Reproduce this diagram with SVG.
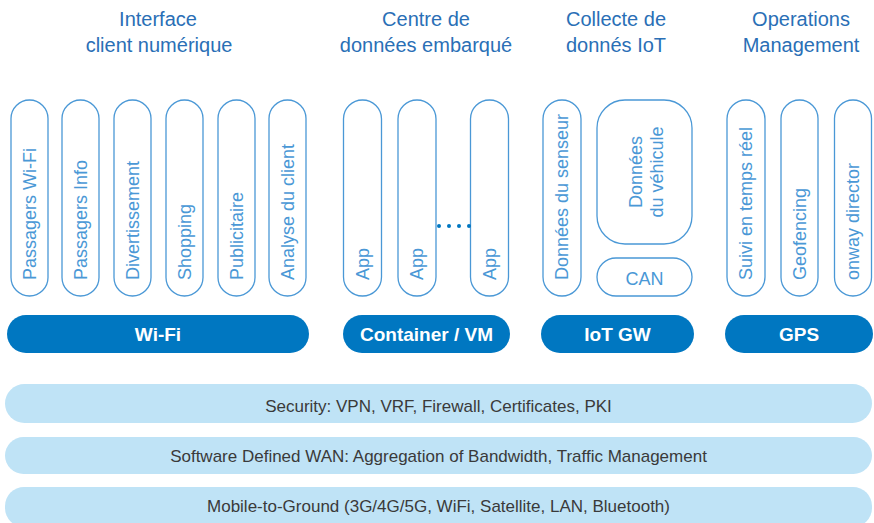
<svg xmlns="http://www.w3.org/2000/svg" width="874" height="523" viewBox="0 0 874 523">
<style>
.hdr{font-family:"Liberation Sans",Arial,sans-serif;font-size:20px;fill:#2a6fb6;text-anchor:middle}
.pill{fill:#fff;stroke:#4a98d6;stroke-width:1.3}
.pt{font-family:"Liberation Sans",Arial,sans-serif;font-size:18px;fill:#4a98d6}
.bar{fill:#0077c1}
.bt{font-family:"Liberation Sans",Arial,sans-serif;font-size:19px;font-weight:bold;fill:#fff;text-anchor:middle}
.lay{fill:#bfe3f6}
.lt{font-family:"Liberation Sans",Arial,sans-serif;font-size:17px;fill:#3a3a3a;text-anchor:middle}
.dot{fill:#0077c1}
</style>

<g id="headers">
<text class="hdr" x="158" y="26">Interface</text>
<text class="hdr" x="159" y="52">client numérique</text>
<text class="hdr" x="426" y="26">Centre de</text>
<text class="hdr" x="426" y="52">données embarqué</text>
<text class="hdr" x="616" y="26">Collecte de</text>
<text class="hdr" x="616" y="52">donnés IoT</text>
<text class="hdr" x="801" y="26">Operations</text>
<text class="hdr" x="801" y="52">Management</text>
</g>

<g id="wifi-apps">
<g id="n-passagers-wifi"><rect class="pill" x="11" y="100" width="37" height="196" rx="18.5"/><text class="pt" transform="translate(35.5,280) rotate(-90)">Passagers Wi-Fi</text></g>
<g id="n-passagers-info"><rect class="pill" x="62" y="100" width="37" height="196" rx="18.5"/><text class="pt" transform="translate(86.5,280) rotate(-90)">Passagers Info</text></g>
<g id="n-divertissement"><rect class="pill" x="114" y="100" width="37" height="196" rx="18.5"/><text class="pt" transform="translate(138.5,280) rotate(-90)">Divertissement</text></g>
<g id="n-shopping"><rect class="pill" x="166" y="100" width="37" height="196" rx="18.5"/><text class="pt" transform="translate(190.5,280) rotate(-90)">Shopping</text></g>
<g id="n-publicitaire"><rect class="pill" x="218" y="100" width="37" height="196" rx="18.5"/><text class="pt" transform="translate(242.5,280) rotate(-90)">Publicitaire</text></g>
<g id="n-analyse"><rect class="pill" x="269" y="100" width="37" height="196" rx="18.5"/><text class="pt" transform="translate(293.5,280) rotate(-90)">Analyse du client</text></g>
</g>

<g id="container-apps">
<g id="n-app1"><rect class="pill" x="343.5" y="100" width="38" height="196" rx="19"/><text class="pt" transform="translate(368.5,280) rotate(-90)">App</text></g>
<g id="n-app2"><rect class="pill" x="398" y="100" width="38" height="196" rx="19"/><text class="pt" transform="translate(423,280) rotate(-90)">App</text></g>
<g id="n-app3"><rect class="pill" x="470.5" y="100" width="38" height="196" rx="19"/><text class="pt" transform="translate(495.5,280) rotate(-90)">App</text></g>
<g id="dots"><circle class="dot" cx="439" cy="226" r="2"/><circle class="dot" cx="449" cy="226" r="2"/><circle class="dot" cx="459" cy="226" r="2"/><circle class="dot" cx="469" cy="226" r="2"/></g>
</g>

<g id="iot-items">
<g id="n-senseur"><rect class="pill" x="543" y="100" width="38" height="196" rx="19"/><text class="pt" transform="translate(568,280) rotate(-90)">Données du senseur</text></g>
<g id="n-vehicule"><rect class="pill" x="597" y="100" width="95" height="144" rx="28"/><text class="pt" text-anchor="middle" transform="translate(642,172) rotate(-90)">Données</text><text class="pt" text-anchor="middle" transform="translate(663,172) rotate(-90)">du véhicule</text></g>
<g id="n-can"><rect class="pill" x="597" y="258" width="95" height="38" rx="19"/><text class="pt" x="644.5" y="285" text-anchor="middle">CAN</text></g>
</g>

<g id="gps-items">
<g id="n-suivi"><rect class="pill" x="727" y="100" width="38" height="196" rx="19"/><text class="pt" transform="translate(752,280) rotate(-90)">Suivi en temps réel</text></g>
<g id="n-geofencing"><rect class="pill" x="781" y="100" width="37" height="196" rx="18.5"/><text class="pt" transform="translate(805.5,280) rotate(-90)">Geofencing</text></g>
<g id="n-onway"><rect class="pill" x="834.5" y="100" width="37" height="196" rx="18.5"/><text class="pt" transform="translate(859,280) rotate(-90)">onway director</text></g>
</g>

<g id="platforms">
<g id="n-wifi"><rect class="bar" x="7" y="315" width="302" height="38" rx="19"/><text class="bt" x="158" y="341">Wi-Fi</text></g>
<g id="n-container"><rect class="bar" x="343" y="315" width="167" height="38" rx="19"/><text class="bt" x="426.5" y="341">Container / VM</text></g>
<g id="n-iotgw"><rect class="bar" x="541" y="315" width="153" height="38" rx="19"/><text class="bt" x="617.5" y="341">IoT GW</text></g>
<g id="n-gps"><rect class="bar" x="725" y="315" width="148" height="38" rx="19"/><text class="bt" x="799" y="341">GPS</text></g>
</g>

<g id="layers">
<g id="n-security"><rect class="lay" x="5" y="384" width="867" height="39" rx="19.5"/><text class="lt" x="438.5" y="411.5">Security: VPN, VRF, Firewall, Certificates, PKI</text></g>
<g id="n-sdwan"><rect class="lay" x="5" y="437" width="867" height="37" rx="18.5"/><text class="lt" x="438.5" y="461.5">Software Defined WAN: Aggregation of Bandwidth, Traffic Management</text></g>
<g id="n-m2g"><rect class="lay" x="5" y="487" width="867" height="40" rx="19"/><text class="lt" x="438.5" y="512">Mobile-to-Ground (3G/4G/5G, WiFi, Satellite, LAN, Bluetooth)</text></g>
</g>

<g id="connectors"/>
</svg>
